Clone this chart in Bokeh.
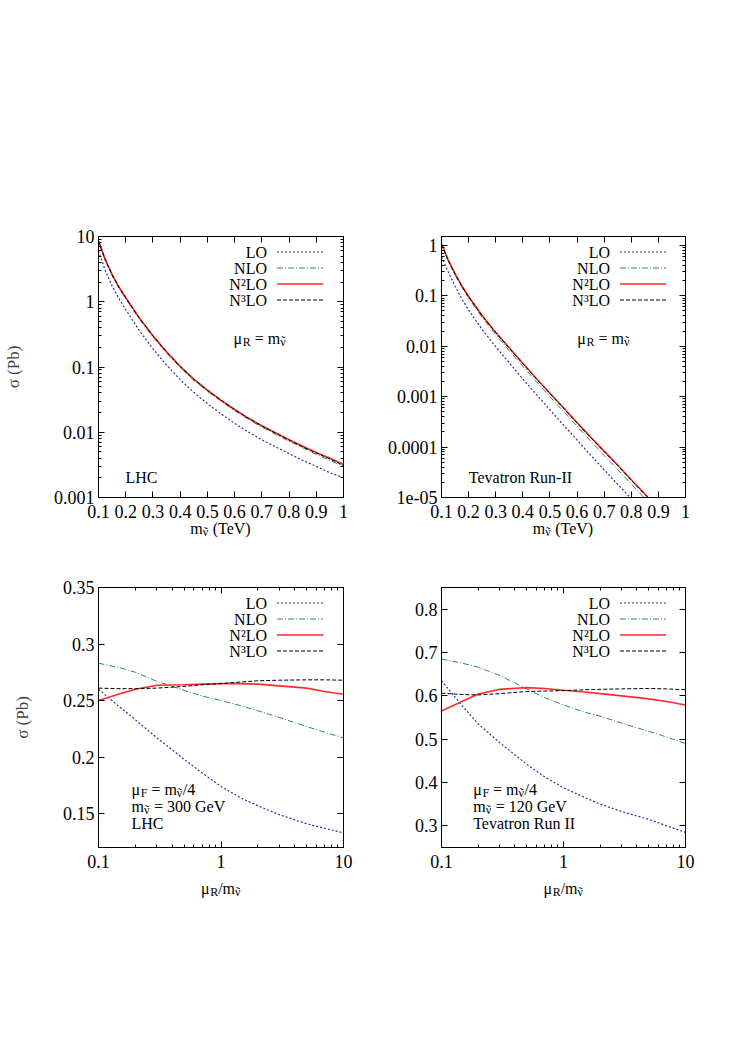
import math
from bokeh.plotting import figure
from bokeh.layouts import column, row
from bokeh.models import Range1d, FixedTicker, LinearAxis, LogAxis, Label
from bokeh.embed import file_html
from bokeh.resources import INLINE

FONT = "Liberation Serif"

# ---------------- data ----------------
series_names = ["LO", "NLO", "N\u00b2LO", "N\u00b3LO"]

# top-left: LHC, sigma (pb) vs sneutrino mass (TeV), mu_R = m
mass_lhc = [0.1, 0.125, 0.15, 0.175, 0.2, 0.25, 0.3, 0.35, 0.4, 0.45, 0.5,
            0.55, 0.6, 0.65, 0.7, 0.75, 0.8, 0.85, 0.9, 0.95, 1.0]
lhc_lo = [6.0, 3.0, 1.75, 1.12, 0.76, 0.36, 0.19, 0.107, 0.064, 0.041, 0.0275,
          0.0192, 0.0137, 0.0101, 0.0077, 0.0060, 0.0047, 0.0037, 0.0030, 0.0024, 0.0020]
lhc_nlo = [8.2, 4.25, 2.5, 1.62, 1.11, 0.54, 0.289, 0.164, 0.0985, 0.0627, 0.0424,
           0.0299, 0.0214, 0.0158, 0.0120, 0.0093, 0.0073, 0.0058, 0.0046, 0.0037, 0.0030]
lhc_n2lo = [8.6, 4.45, 2.62, 1.69, 1.16, 0.565, 0.302, 0.171, 0.1025, 0.0652, 0.0441,
            0.0311, 0.0223, 0.0165, 0.0126, 0.0098, 0.0077, 0.0061, 0.0049, 0.0040, 0.0032]
lhc_n3lo = [8.5, 4.4, 2.6, 1.68, 1.15, 0.56, 0.30, 0.17, 0.102, 0.065, 0.044,
            0.031, 0.0222, 0.0164, 0.0125, 0.0097, 0.0076, 0.0060, 0.0048, 0.0039, 0.0031]

# top-right: Tevatron Run-II
mass_tev = [0.1, 0.125, 0.15, 0.175, 0.2, 0.25, 0.3, 0.35, 0.4, 0.45, 0.5,
            0.55, 0.6, 0.65, 0.7, 0.75, 0.8, 0.85, 0.9]
tev_lo = [0.60, 0.295, 0.155, 0.087, 0.052, 0.0214, 0.0098, 0.0047, 0.00224, 0.0011,
          0.00055, 0.000275, 0.000138, 6.9e-05, 3.55e-05, 1.82e-05, 9.5e-06, 4.8e-06, 2.5e-06]
tev_nlo = [1.02, 0.49, 0.26, 0.148, 0.090, 0.037, 0.0170, 0.0082, 0.0040, 0.00197,
           0.00100, 0.00051, 0.00026, 0.000132, 6.8e-05, 3.55e-05, 1.86e-05, 9.5e-06, 5.0e-06]
tev_n2lo = [1.07, 0.51, 0.275, 0.158, 0.097, 0.0408, 0.0190, 0.0093, 0.0046, 0.00229,
            0.00117, 0.000602, 0.000306, 0.000158, 8.3e-05, 4.4e-05, 2.25e-05, 1.17e-05, 6.1e-06]
tev_n3lo = [1.05, 0.50, 0.27, 0.155, 0.095, 0.040, 0.0186, 0.0091, 0.0045, 0.00224,
            0.00115, 0.00059, 0.00030, 0.000155, 8.1e-05, 4.3e-05, 2.2e-05, 1.15e-05, 6.0e-06]

# bottom: scale dependence, x = mu_R / m
ratio = [0.1, 0.15, 0.2, 0.3, 0.5, 0.7, 1, 1.5, 2, 3, 5, 7, 10]
scale_lhc_lo = [0.260, 0.244, 0.233, 0.217, 0.198, 0.186, 0.174, 0.163, 0.157, 0.149, 0.141, 0.137, 0.133]
scale_lhc_nlo = [0.283, 0.279, 0.275, 0.267, 0.259, 0.254, 0.250, 0.245, 0.241, 0.235, 0.227, 0.222, 0.217]
scale_lhc_n2lo = [0.250, 0.256, 0.260, 0.2635, 0.264, 0.2645, 0.265, 0.265, 0.2645, 0.263, 0.261, 0.258, 0.2555]
scale_lhc_n3lo = [0.261, 0.2605, 0.2605, 0.261, 0.2625, 0.264, 0.265, 0.2665, 0.2675, 0.268, 0.2683, 0.2683, 0.268]

scale_tev_lo = [0.635, 0.575, 0.535, 0.492, 0.442, 0.413, 0.388, 0.365, 0.350, 0.333, 0.315, 0.300, 0.285]
scale_tev_nlo = [0.685, 0.675, 0.666, 0.647, 0.616, 0.596, 0.579, 0.562, 0.553, 0.537, 0.518, 0.505, 0.490]
scale_tev_n2lo = [0.565, 0.588, 0.604, 0.615, 0.619, 0.617, 0.613, 0.609, 0.605, 0.600, 0.593, 0.587, 0.579]
scale_tev_n3lo = [0.606, 0.603, 0.602, 0.605, 0.610, 0.611, 0.612, 0.614, 0.615, 0.616, 0.617, 0.616, 0.614]

# ticks
mass_ticks = [0.1, 0.2, 0.3, 0.4, 0.5, 0.6, 0.7, 0.8, 0.9, 1.0]
mass_tick_labels = ["0.1", "0.2", "0.3", "0.4", "0.5", "0.6", "0.7", "0.8", "0.9", "1"]
lhc_sigma_ticks = [0.001, 0.01, 0.1, 1, 10]
lhc_sigma_labels = ["0.001", "0.01", "0.1", "1", "10"]
tev_sigma_ticks = [1e-05, 0.0001, 0.001, 0.01, 0.1, 1]
tev_sigma_labels = ["1e-05", "0.0001", "0.001", "0.01", "0.1", "1"]
ratio_ticks = [0.1, 1, 10]
ratio_labels = ["0.1", "1", "10"]
lhc_scale_ticks = [0.15, 0.2, 0.25, 0.3, 0.35]
lhc_scale_labels = ["0.15", "0.2", "0.25", "0.3", "0.35"]
tev_scale_ticks = [0.3, 0.4, 0.5, 0.6, 0.7, 0.8]
tev_scale_labels = ["0.3", "0.4", "0.5", "0.6", "0.7", "0.8"]

# ---------------- styles ----------------
STYLES = [
    dict(color="#2b2bb4", width=1.2, dash="2 2"),
    dict(color="#2e8b57", width=1.0, dash="6 2 1 2"),
    dict(color="#ff2a2a", width=1.6, dash="solid"),
    dict(color="#000000", width=1.0, dash="4 2"),
]
FS = 16      # annotation text
TFS = 18     # tick labels
SUB = 12     # subscripts
EM = {' ': 0.25, '(': 0.333, ')': 0.333, '/': 0.278, '=': 0.564, '-': 0.333,
      'C': 0.667, 'F': 0.556, 'G': 0.722, 'H': 0.722, 'I': 0.333, 'L': 0.611,
      'R': 0.667, 'T': 0.611, 'V': 0.722, 'a': 0.444, 'e': 0.444, 'm': 0.778,
      'n': 0.5, 'o': 0.5, 'r': 0.333, 't': 0.278, 'u': 0.5, 'v': 0.5,
      '\u03bc': 0.576, '\u03bd': 0.5, '\u02dc': 0.333}
NU = "\u03bd"
TILDE = "\u02dc"
MU = "\u03bc"


def tw(s, size):
    return sum(EM.get(c, 0.5) for c in s) * size


def log_minor(lo, hi):
    out = []
    for e in range(int(math.floor(math.log10(lo))), int(math.ceil(math.log10(hi))) + 1):
        for m in range(2, 10):
            v = m * 10.0 ** e
            if lo < v < hi:
                out.append(v)
    return out


def style_axis(ax, ticks, labels, minor, show):
    ax.ticker = FixedTicker(ticks=ticks, minor_ticks=minor)
    ax.major_tick_in = 6
    ax.major_tick_out = 0
    ax.minor_tick_in = 3
    ax.minor_tick_out = 0
    ax.axis_line_color = "black"
    ax.major_tick_line_color = "black"
    ax.minor_tick_line_color = "black"
    ax.major_label_text_font = FONT
    ax.major_label_text_font_size = "%dpx" % TFS
    ax.major_label_text_color = "black"
    ax.major_label_overrides = {t: (l if show else "") for t, l in zip(ticks, labels)}


def make_panel(xlog, ylog, xr, yr, xt, xtl, yt, ytl, bl, br, bt, bb, fw, fh, ytitle):
    p = figure(x_axis_type="log" if xlog else "linear",
               y_axis_type="log" if ylog else "linear",
               x_range=Range1d(*xr), y_range=Range1d(*yr),
               frame_width=fw, frame_height=fh,
               min_border_left=bl, min_border_right=br,
               min_border_top=bt, min_border_bottom=bb,
               output_backend="svg", toolbar_location=None,
               background_fill_color="white", border_fill_color="white")
    p.xgrid.visible = False
    p.ygrid.visible = False
    p.outline_line_color = "black"
    xminor = log_minor(*xr) if xlog else []
    yminor = log_minor(*yr) if ylog else []
    style_axis(p.xaxis[0], xt, xtl, xminor, True)
    p.xaxis[0].major_label_standoff = 7
    style_axis(p.yaxis[0], yt, ytl, yminor, True)
    p.yaxis[0].major_label_standoff = 4
    top = LogAxis() if xlog else LinearAxis()
    style_axis(top, xt, xtl, xminor, False)
    p.add_layout(top, "above")
    right = LogAxis() if ylog else LinearAxis()
    style_axis(right, yt, ytl, yminor, False)
    p.add_layout(right, "right")
    if ytitle:
        ax = p.yaxis[0]
        ax.axis_label = ytitle
        ax.axis_label_text_font = FONT
        ax.axis_label_text_font_size = "17px"
        ax.axis_label_text_font_style = "normal"
        ax.axis_label_standoff = 28
    meta = dict(xlog=xlog, ylog=ylog, xr=xr, yr=yr, fw=fw, fh=fh)
    return p, meta


def make_title_fig(w, h, margin):
    t = figure(x_range=Range1d(0, w), y_range=Range1d(0, h),
               frame_width=w, frame_height=h, min_border=0,
               x_axis_location=None, y_axis_location=None,
               output_backend="svg", toolbar_location=None,
               background_fill_color=None, border_fill_color=None,
               outline_line_color=None, margin=margin)
    t.xgrid.visible = False
    t.ygrid.visible = False
    meta = dict(xlog=False, ylog=False, xr=(0, w), yr=(0, h), fw=w, fh=h)
    return t, meta


def pos(meta, px, py):
    (x0, x1), (y0, y1) = meta["xr"], meta["yr"]
    fx = px / meta["fw"]
    fy = 1.0 - py / meta["fh"]
    if meta["xlog"]:
        x = 10 ** (math.log10(x0) + fx * (math.log10(x1) - math.log10(x0)))
    else:
        x = x0 + fx * (x1 - x0)
    if meta["ylog"]:
        y = 10 ** (math.log10(y0) + fy * (math.log10(y1) - math.log10(y0)))
    else:
        y = y0 + fy * (y1 - y0)
    return x, y


def label(p, meta, px, py, text, size=FS, align="left", baseline="alphabetic"):
    x, y = pos(meta, px, py)
    p.add_layout(Label(x=x, y=y, text=text, text_font=FONT,
                       text_font_size="%dpx" % size, text_color="black",
                       text_align=align, text_baseline=baseline))


def rich(p, meta, px, py, parts, align="left"):
    """parts: (text, kind) with kind 'n' normal, 's' subscript, 'nu' = subscript nu with tilde."""
    def width(t, k):
        return tw(t, FS) if k == "n" else tw(t, SUB)
    total = sum(width(t, k) for t, k in parts)
    x = px - total / 2.0 if align == "center" else px
    for t, k in parts:
        size = FS if k == "n" else SUB
        dy = 0 if k == "n" else 3.5
        lead = len(t) - len(t.lstrip(" "))
        x += tw(" " * lead, size)
        body = t.strip(" ")
        label(p, meta, x, py + dy, body, size=size)
        if k == "nu":
            label(p, meta, x + 1.0, py + dy - 0.5, TILDE, size=size)
        x += tw(body, size) + tw(" " * (len(t) - lead - len(body)), size)


LEG_ROWS = [15.5, 31.5, 47.5, 63.5]
RAISE = 6.0   # baseline correction for in-panel annotations


def draw(p, meta, xs, ys_list):
    for ys, st in zip(ys_list, STYLES):
        p.line(xs, ys, line_color=st["color"], line_width=st["width"], line_dash=st["dash"])
    for i, (name, st) in enumerate(zip(series_names, STYLES)):
        py = LEG_ROWS[i]
        label(p, meta, 168.5, py, name, align="right", baseline="middle")
        xa, ya = pos(meta, 178.5, py)
        xb, _ = pos(meta, 224.7, py)
        p.line([xa, xb], [ya, ya], line_color=st["color"], line_width=st["width"], line_dash=st["dash"])


# ---------------- panels ----------------
FW_L, FW_R = 245, 244
FH_T, FH_B = 261, 260
BL_L, BR_L = 98, 27
BL_R, BR_R = 71, 33
W_L = BL_L + FW_L + BR_L
W_R = BL_R + FW_R + BR_R

p1, m1 = make_panel(False, True, (0.1, 1.0), (0.001, 10), mass_ticks, mass_tick_labels,
                    lhc_sigma_ticks, lhc_sigma_labels, BL_L, BR_L, 236, 28, FW_L, FH_T, "\u03c3 (Pb)")
draw(p1, m1, mass_lhc, [lhc_lo, lhc_nlo, lhc_n2lo, lhc_n3lo])
rich(p1, m1, 135, 107.5 - RAISE, [(MU, "n"), ("R", "s"), (" = m", "n"), (NU, "nu")])
label(p1, m1, 27, 247.3 - RAISE, "LHC")

p2, m2 = make_panel(False, True, (0.1, 1.0), (1e-05, 1.5), mass_ticks, mass_tick_labels,
                    tev_sigma_ticks, tev_sigma_labels, BL_R, BR_R, 236, 28, FW_R, FH_T, None)
draw(p2, m2, mass_tev, [tev_lo, tev_nlo, tev_n2lo, tev_n3lo])
rich(p2, m2, 135.7, 107.5 - RAISE, [(MU, "n"), ("R", "s"), (" = m", "n"), (NU, "nu")])
label(p2, m2, 27.3, 247.3 - RAISE, "Tevatron Run-II")

# x-axis titles of the top row (separate strips so that subscripts are possible)
TOP_STRIP_H, TOP_STRIP_SHIFT = 30, 12
t1, tm1 = make_title_fig(W_L, TOP_STRIP_H, (-TOP_STRIP_SHIFT, 0, 0, 0))
t2, tm2 = make_title_fig(W_R, TOP_STRIP_H, (-TOP_STRIP_SHIFT, 0, 0, 0))
base_top = 528 - (236 + FH_T + 28 - TOP_STRIP_SHIFT)
rich(t1, tm1, BL_L + FW_L / 2.0, base_top, [("m", "n"), (NU, "nu"), (" (TeV)", "n")], align="center")
rich(t2, tm2, BL_R + FW_R / 2.0, base_top, [("m", "n"), (NU, "nu"), (" (TeV)", "n")], align="center")

row2_top = 236 + FH_T + 28 - TOP_STRIP_SHIFT + TOP_STRIP_H
BT_B = 587 - row2_top

p3, m3 = make_panel(True, False, (0.1, 10), (0.12, 0.35), ratio_ticks, ratio_labels,
                    lhc_scale_ticks, lhc_scale_labels, BL_L, BR_L, BT_B, 28, FW_L, FH_B, "\u03c3 (Pb)")
draw(p3, m3, ratio, [scale_lhc_lo, scale_lhc_nlo, scale_lhc_n2lo, scale_lhc_n3lo])
rich(p3, m3, 33, 208 - RAISE, [(MU, "n"), ("F", "s"), (" = m", "n"), (NU, "nu"), ("/4", "n")])
rich(p3, m3, 33, 225 - RAISE, [("m", "n"), (NU, "nu"), (" = 300 GeV", "n")])
label(p3, m3, 33, 241.6 - RAISE, "LHC")

p4, m4 = make_panel(True, False, (0.1, 10), (0.25, 0.85), ratio_ticks, ratio_labels,
                    tev_scale_ticks, tev_scale_labels, BL_R, BR_R, BT_B, 28, FW_R, FH_B, None)
draw(p4, m4, ratio, [scale_tev_lo, scale_tev_nlo, scale_tev_n2lo, scale_tev_n3lo])
rich(p4, m4, 31.7, 208 - RAISE, [(MU, "n"), ("F", "s"), (" = m", "n"), (NU, "nu"), ("/4", "n")])
rich(p4, m4, 31.7, 225 - RAISE, [("m", "n"), (NU, "nu"), (" = 120 GeV", "n")])
label(p4, m4, 31.7, 241.6 - RAISE, "Tevatron Run II")

BOT_STRIP_H, BOT_STRIP_SHIFT = 40, 8
t3, tm3 = make_title_fig(W_L, BOT_STRIP_H, (-BOT_STRIP_SHIFT, 0, 0, 0))
t4, tm4 = make_title_fig(W_R, BOT_STRIP_H, (-BOT_STRIP_SHIFT, 0, 0, 0))
base_bot = 888.0 - (587 + FH_B + 28 - BOT_STRIP_SHIFT)
rich(t3, tm3, BL_L + FW_L / 2.0, base_bot, [(MU, "n"), ("R", "s"), ("/m", "n"), (NU, "nu")], align="center")
rich(t4, tm4, BL_R + FW_R / 2.0, base_bot, [(MU, "n"), ("R", "s"), ("/m", "n"), (NU, "nu")], align="center")

layout = column(row(p1, p2), row(t1, t2), row(p3, p4), row(t3, t4))
open("out.html", "w").write(file_html(layout, INLINE))
